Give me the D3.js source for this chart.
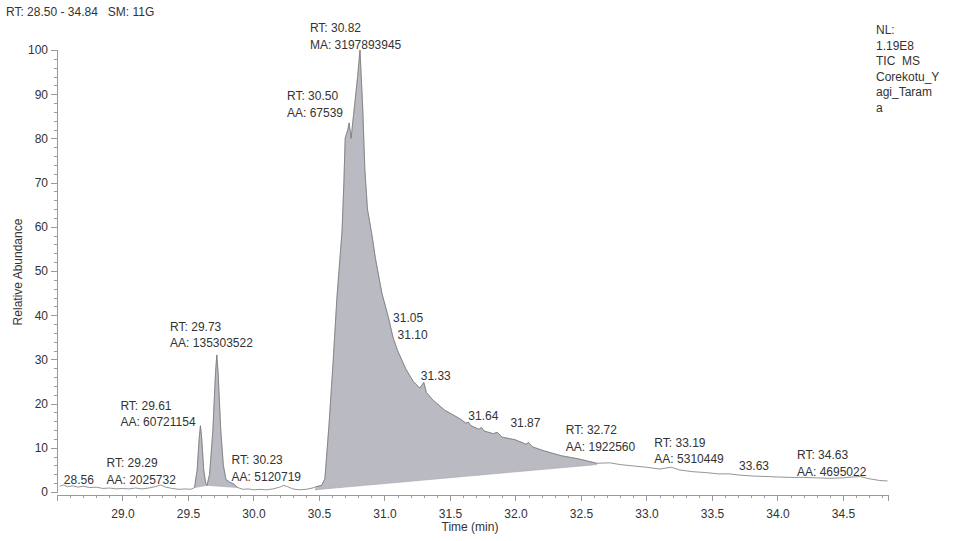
<!DOCTYPE html>
<meta charset="utf-8">
<head>
<title>TIC chromatogram</title>
</head>
<style>
html, body {
  margin: 0;
  background: #fff;
  overflow: hidden;
}
text {
  font-family: "Liberation Sans", Arial, sans-serif;
  font-size: 12px;
  fill: #333;
  white-space: pre;
}
.axis path, .axis line { stroke: #9a9a9a; shape-rendering: crispEdges; }
</style>
<body>
<script src="https://cdn.jsdelivr.net/npm/d3@7"></script>
<script>

// trace (retention time in min, relative abundance %)
var rt = [28.52, 28.55, 28.58, 28.62, 28.66, 28.70, 28.75, 28.80, 28.85, 28.90, 28.95, 29.00,
  29.05, 29.10, 29.15, 29.20, 29.25, 29.29, 29.33, 29.38, 29.43, 29.48, 29.52, 29.55,
  29.57, 29.585, 29.595, 29.605, 29.62, 29.635, 29.645, 29.665, 29.69, 29.71, 29.72, 29.73,
  29.75, 29.77, 29.79, 29.82, 29.85, 29.88, 29.92, 29.96, 30.00, 30.05, 30.10, 30.15,
  30.20, 30.23, 30.26, 30.30, 30.35, 30.40, 30.45, 30.48, 30.52, 30.545, 30.576, 30.607,
  30.637, 30.676, 30.69, 30.70, 30.72, 30.73, 30.745, 30.77, 30.795, 30.813, 30.835, 30.85,
  30.87, 30.905, 30.93, 30.98, 31.03, 31.065, 31.10, 31.16, 31.22, 31.27, 31.30, 31.32,
  31.37, 31.46, 31.58, 31.62, 31.64, 31.66, 31.72, 31.74, 31.76, 31.83, 31.86, 31.90,
  32.00, 32.08, 32.10, 32.13, 32.22, 32.35, 32.48, 32.55, 32.62, 32.72, 32.80, 32.90,
  33.00, 33.10, 33.19, 33.25, 33.35, 33.45, 33.55, 33.63, 33.72, 33.82, 33.92, 34.00,
  34.10, 34.20, 34.30, 34.40, 34.50, 34.58, 34.63, 34.70, 34.78, 34.84];
var abundance = [1.3, 1.6, 1.2, 1.4, 1.1, 1.3, 1.0, 1.1, 0.8, 0.9, 0.7, 0.8,
  0.7, 0.9, 0.7, 0.9, 1.2, 1.6, 1.1, 0.8, 0.6, 0.7, 0.6, 1.0,
  5, 12, 15, 12, 5, 2, 1.5, 4, 14, 27, 31, 27,
  14, 6, 2.8, 2.2, 1.8, 1.0, 0.6, 0.7, 0.5, 0.6, 0.5, 0.7,
  1.1, 1.5, 1.2, 0.7, 0.5, 0.6, 0.9, 1.2, 1.5, 3, 15, 29,
  44, 59, 70, 80, 82, 83.5, 80, 87, 94, 100, 86, 73,
  64, 58, 53, 45, 39.5, 35, 32, 28, 25, 23.5, 24.8, 22.5,
  20.8, 18.5, 16.5, 15.6, 15.8, 15, 14.2, 14.6, 13.8, 13.2, 13.5, 12.4,
  11.8, 10.8, 11.2, 10.2, 9.3, 8.2, 7.5, 7.0, 6.5, 6.6, 6.2, 5.9,
  5.6, 5.2, 5.6, 5.0, 4.6, 4.4, 4.1, 4.1, 3.8, 3.6, 3.5, 3.4,
  3.3, 3.3, 3.2, 3.1, 3.2, 3.4, 3.5, 3.0, 2.6, 2.5];

// integrated peaks: start/end time and baseline level at each end
var peakStart = [29.55, 29.645, 30.47];
var peakEnd = [29.645, 29.88, 32.62];
var baseStart = [1.0, 1.5, 0.5];
var baseEnd = [1.5, 1.0, 6.2];

// peak labels
var labelRt = [28.56, 29.29, 29.61, 29.73, 30.23, 30.50, 30.82, 31.05, 31.10, 31.33, 31.64, 31.87, 32.72, 33.19, 33.63, 34.63];
var labelHeight = [1.5, 1.8, 15, 31, 1.5, 83, 100, 39, 33, 24.6, 15.3, 13.5, 6.5, 5.5, 4.0, 3.3];
var labelText = [
  ["28.56"],
  ["RT: 29.29", "AA: 2025732"],
  ["RT: 29.61", "AA: 60721154"],
  ["RT: 29.73", "AA: 135303522"],
  ["RT: 30.23", "AA: 5120719"],
  ["RT: 30.50", "AA: 67539"],
  ["RT: 30.82", "MA: 3197893945"],
  ["31.05"], ["31.10"], ["31.33"], ["31.64"], ["31.87"],
  ["RT: 32.72", "AA: 1922560"],
  ["RT: 33.19", "AA: 5310449"],
  ["33.63"],
  ["RT: 34.63", "AA: 4695022"]
];

var xTicks = [29.0, 29.5, 30.0, 30.5, 31.0, 31.5, 32.0, 32.5, 33.0, 33.5, 34.0, 34.5];
var yTicks = [0, 10, 20, 30, 40, 50, 60, 70, 80, 90, 100];
var headerText = "RT: 28.50 - 34.84   SM: 11G";
var nlText = ["NL:", "1.19E8", "TIC  MS", "Corekotu_Y", "agi_Taram", "a"];

// label placement, pixels relative to (x(rt), y(height))
var labelShift = [[-1, -1], [-54, -17], [-82, -16], [-48, -24], [-52, -21], [-32, -25], [-51, -18],
  [2, 2], [0, -7], [-7, -3], [0, -4], [12, -5], [-44, -29], [-17, -21], [10, -4], [-63, -18]];

var width = 954, height = 541;
var svg = d3.select("body").append("svg")
    .attr("width", width)
    .attr("height", height);

var x = d3.scaleLinear().domain([28.5, 34.84]).range([57, 887.5]);
var y = d3.scaleLinear().domain([0, 100]).range([492, 50]);

var trace = rt.map(function (t, i) { return {t: t, v: abundance[i]}; });

// shaded peak areas
var areas = svg.append("g").attr("class", "peaks");
peakStart.forEach(function (s, k) {
    var e = peakEnd[k];
    var base = d3.scaleLinear().domain([s, e]).range([baseStart[k], baseEnd[k]]);
    var pts = trace.filter(function (d) { return d.t >= s && d.t <= e; });
    pts.unshift({t: s, v: base(s)});
    pts.push({t: e, v: base(e)});
    areas.append("path")
        .datum(pts)
        .attr("fill", "#b9bac2")
        .attr("stroke", "#a5a6ae")
        .attr("stroke-width", 0.6)
        .attr("d", d3.area()
            .x(function (d) { return x(d.t); })
            .y0(function (d) { return y(base(d.t)); })
            .y1(function (d) { return y(Math.max(d.v, base(d.t))); }));
});

// trace line
svg.append("path")
    .datum(trace)
    .attr("fill", "none")
    .attr("stroke", "#7a7a7a")
    .attr("stroke-width", 0.8)
    .attr("d", d3.line()
        .x(function (d) { return x(d.t); })
        .y(function (d) { return y(d.v); }));

// y axis
var yAxis = svg.append("g")
    .attr("class", "axis")
    .attr("transform", "translate(57,0)")
    .call(d3.axisLeft(y).tickValues(yTicks).tickSize(6).tickPadding(3).tickFormat(d3.format("d")));
yAxis.selectAll("text").style("font-size", "12px").attr("fill", "#333");
yAxis.select(".domain").attr("stroke", "#aaa");
svg.append("g")
    .attr("class", "axis")
    .attr("transform", "translate(57,0)")
    .call(d3.axisLeft(y).tickValues(d3.range(0, 101, 2)).tickSize(3).tickFormat(""))
    .select(".domain").remove();

// x axis
var xAxis = svg.append("g")
    .attr("class", "axis")
    .attr("transform", "translate(0,495)")
    .call(d3.axisBottom(x).tickValues(xTicks).tickSize(6).tickPadding(8).tickFormat(d3.format(".1f")));
xAxis.selectAll("text").style("font-size", "12px").attr("fill", "#333");
xAxis.select(".domain").attr("stroke", "#e2e2e2");
svg.append("g")
    .attr("class", "axis")
    .attr("transform", "translate(0,495)")
    .call(d3.axisBottom(x).tickValues(d3.range(28.6, 34.85, 0.1)).tickSize(3).tickFormat(""))
    .select(".domain").remove();

// axis titles
svg.append("text")
    .attr("transform", "translate(22,272) rotate(-90)")
    .attr("text-anchor", "middle")
    .text("Relative Abundance");
svg.append("text")
    .attr("x", 470).attr("y", 531)
    .attr("text-anchor", "middle")
    .text("Time (min)");

// header texts
svg.append("text").attr("x", 6).attr("y", 16).text(headerText);
svg.append("g").selectAll("text")
    .data(nlText)
    .enter().append("text")
    .attr("x", 876)
    .attr("y", function (d, i) { return 34 + i * 15.5; })
    .text(function (d) { return d; });

// peak labels
var labels = svg.append("g").attr("class", "labels")
    .selectAll("text")
    .data(labelRt)
    .enter().append("text")
    .attr("x", function (d, i) { return x(d) + labelShift[i][0]; })
    .attr("y", function (d, i) { return y(labelHeight[i]) + labelShift[i][1]; });
labels.selectAll("tspan")
    .data(function (d, i) { return labelText[i].map(function (s) { return {s: s, i: i}; }); })
    .enter().append("tspan")
    .attr("x", function (d) { return x(labelRt[d.i]) + labelShift[d.i][0]; })
    .attr("dy", function (d, j) { return j === 0 ? 0 : 16.5; })
    .text(function (d) { return d.s; });

</script>
</body>
